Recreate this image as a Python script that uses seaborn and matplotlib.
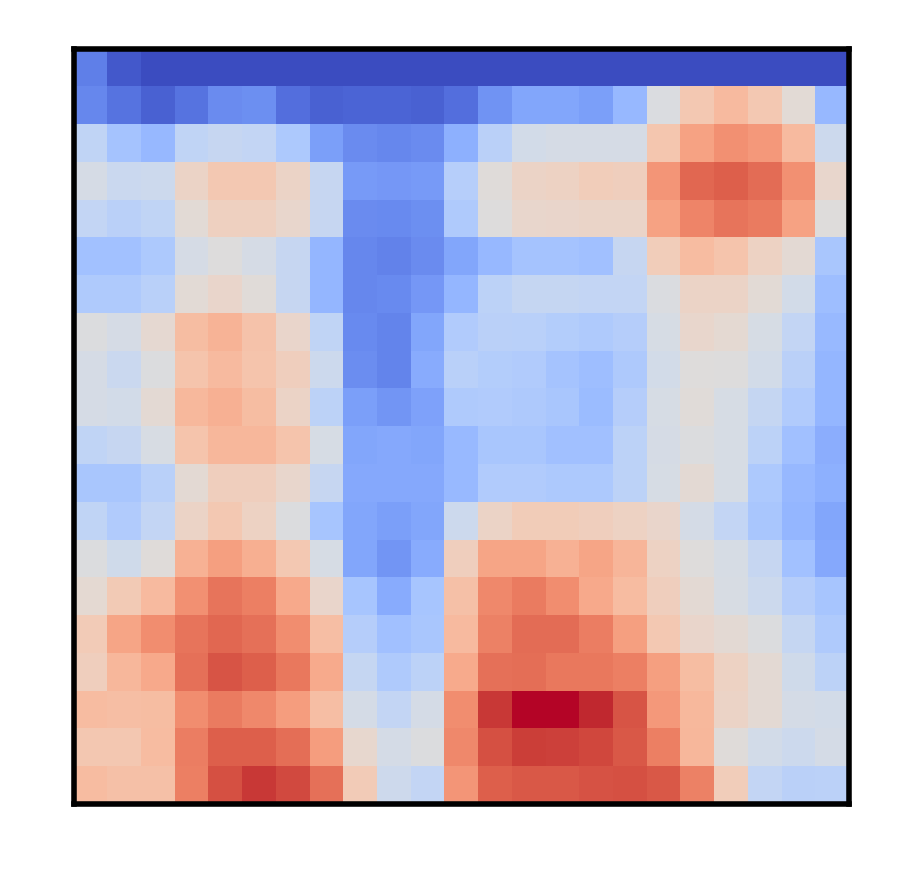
import numpy as np
import pandas as pd
import matplotlib
matplotlib.use("Agg")
import matplotlib.pyplot as plt
import seaborn as sns

# Heatmap values (normalised 0..1), one list per row, top to bottom
row_00 = [0.12, 0.03, 0.0, 0.0, 0.0, 0.0, 0.0, 0.0, 0.0, 0.0, 0.0, 0.0, 0.0, 0.0, 0.0, 0.0, 0.0, 0.0, 0.0, 0.0, 0.0, 0.0, 0.0]
row_01 = [0.14, 0.09, 0.05, 0.09, 0.15, 0.16, 0.08, 0.05, 0.055, 0.055, 0.05, 0.08, 0.17, 0.22, 0.22, 0.20, 0.28, 0.49, 0.61, 0.66, 0.61, 0.52, 0.28]
row_02 = [0.40, 0.32, 0.28, 0.40, 0.42, 0.41, 0.34, 0.20, 0.15, 0.14, 0.15, 0.25, 0.38, 0.46, 0.47, 0.47, 0.47, 0.62, 0.73, 0.77, 0.75, 0.66, 0.44]
row_03 = [0.47, 0.43, 0.44, 0.56, 0.61, 0.61, 0.56, 0.42, 0.19, 0.18, 0.19, 0.37, 0.51, 0.56, 0.57, 0.59, 0.585, 0.76, 0.86, 0.875, 0.85, 0.77, 0.545]
row_04 = [0.41, 0.38, 0.40, 0.52, 0.575, 0.575, 0.545, 0.42, 0.15, 0.145, 0.16, 0.35, 0.50, 0.545, 0.55, 0.555, 0.555, 0.73, 0.80, 0.835, 0.82, 0.73, 0.505]
row_05 = [0.31, 0.31, 0.34, 0.47, 0.50, 0.47, 0.42, 0.27, 0.14, 0.125, 0.15, 0.22, 0.28, 0.32, 0.32, 0.305, 0.42, 0.59, 0.655, 0.625, 0.57, 0.525, 0.33]
row_06 = [0.35, 0.35, 0.375, 0.52, 0.55, 0.515, 0.42, 0.27, 0.14, 0.145, 0.18, 0.27, 0.39, 0.415, 0.415, 0.41, 0.41, 0.49, 0.56, 0.56, 0.52, 0.46, 0.30]
row_07 = [0.495, 0.47, 0.535, 0.65, 0.68, 0.63, 0.55, 0.40, 0.145, 0.13, 0.22, 0.355, 0.38, 0.375, 0.36, 0.35, 0.365, 0.475, 0.545, 0.53, 0.475, 0.41, 0.285]
row_08 = [0.47, 0.43, 0.495, 0.625, 0.66, 0.625, 0.585, 0.44, 0.155, 0.13, 0.235, 0.375, 0.36, 0.355, 0.32, 0.30, 0.345, 0.46, 0.505, 0.50, 0.46, 0.38, 0.27]
row_09 = [0.47, 0.46, 0.525, 0.665, 0.69, 0.65, 0.56, 0.39, 0.20, 0.175, 0.21, 0.35, 0.355, 0.345, 0.33, 0.29, 0.365, 0.475, 0.515, 0.475, 0.415, 0.355, 0.27]
row_10 = [0.40, 0.42, 0.48, 0.625, 0.67, 0.67, 0.625, 0.475, 0.22, 0.23, 0.22, 0.285, 0.33, 0.33, 0.305, 0.305, 0.39, 0.47, 0.495, 0.475, 0.39, 0.305, 0.245]
row_11 = [0.33, 0.33, 0.375, 0.525, 0.585, 0.585, 0.545, 0.42, 0.23, 0.23, 0.23, 0.285, 0.355, 0.355, 0.34, 0.34, 0.39, 0.475, 0.525, 0.475, 0.34, 0.28, 0.25]
row_12 = [0.40, 0.355, 0.41, 0.56, 0.61, 0.57, 0.495, 0.325, 0.22, 0.20, 0.22, 0.44, 0.56, 0.595, 0.595, 0.585, 0.57, 0.55, 0.465, 0.41, 0.33, 0.27, 0.22]
row_13 = [0.495, 0.45, 0.51, 0.685, 0.735, 0.695, 0.61, 0.475, 0.22, 0.175, 0.235, 0.585, 0.72, 0.72, 0.685, 0.72, 0.675, 0.57, 0.505, 0.475, 0.42, 0.31, 0.23]
row_14 = [0.53, 0.605, 0.66, 0.77, 0.835, 0.81, 0.71, 0.55, 0.325, 0.235, 0.325, 0.64, 0.79, 0.82, 0.78, 0.71, 0.655, 0.585, 0.525, 0.48, 0.44, 0.365, 0.325]
row_15 = [0.60, 0.72, 0.78, 0.835, 0.86, 0.84, 0.78, 0.645, 0.365, 0.305, 0.33, 0.66, 0.805, 0.85, 0.85, 0.815, 0.735, 0.61, 0.55, 0.525, 0.495, 0.415, 0.35]
row_16 = [0.585, 0.67, 0.71, 0.84, 0.895, 0.875, 0.825, 0.705, 0.415, 0.35, 0.39, 0.705, 0.84, 0.845, 0.825, 0.825, 0.81, 0.735, 0.65, 0.57, 0.525, 0.45, 0.39]
row_17 = [0.655, 0.645, 0.65, 0.78, 0.82, 0.79, 0.74, 0.645, 0.465, 0.41, 0.465, 0.78, 0.945, 1.0, 1.0, 0.965, 0.895, 0.75, 0.665, 0.56, 0.525, 0.465, 0.46]
row_18 = [0.615, 0.615, 0.655, 0.815, 0.875, 0.875, 0.845, 0.74, 0.54, 0.465, 0.495, 0.79, 0.905, 0.935, 0.93, 0.92, 0.89, 0.81, 0.67, 0.51, 0.46, 0.44, 0.465]
row_19 = [0.655, 0.64, 0.64, 0.81, 0.905, 0.945, 0.915, 0.84, 0.60, 0.445, 0.41, 0.76, 0.875, 0.89, 0.89, 0.90, 0.905, 0.89, 0.805, 0.59, 0.41, 0.38, 0.385]

rows = [row_00, row_01, row_02, row_03, row_04, row_05, row_06, row_07, row_08, row_09,
        row_10, row_11, row_12, row_13, row_14, row_15, row_16, row_17, row_18, row_19]
data = pd.DataFrame(np.array(rows))

W, H = 899, 879
left, right, top, bottom = 73.5, 849.0, 49.5, 805.0
fig = plt.figure(figsize=(W / 100, H / 100), dpi=100)
ax = fig.add_axes([left / W, 1 - bottom / H, (right - left) / W, (bottom - top) / H])
sns.heatmap(data, ax=ax, cmap="coolwarm", vmin=0, vmax=1, cbar=False,
            xticklabels=False, yticklabels=False, square=False)
for side in ["top", "bottom", "left", "right"]:
    ax.spines[side].set_visible(True)
    ax.spines[side].set_color("black")
    ax.spines[side].set_linewidth(4)
ax.tick_params(left=False, bottom=False)
fig.savefig("out.png", dpi=100, facecolor="white")
